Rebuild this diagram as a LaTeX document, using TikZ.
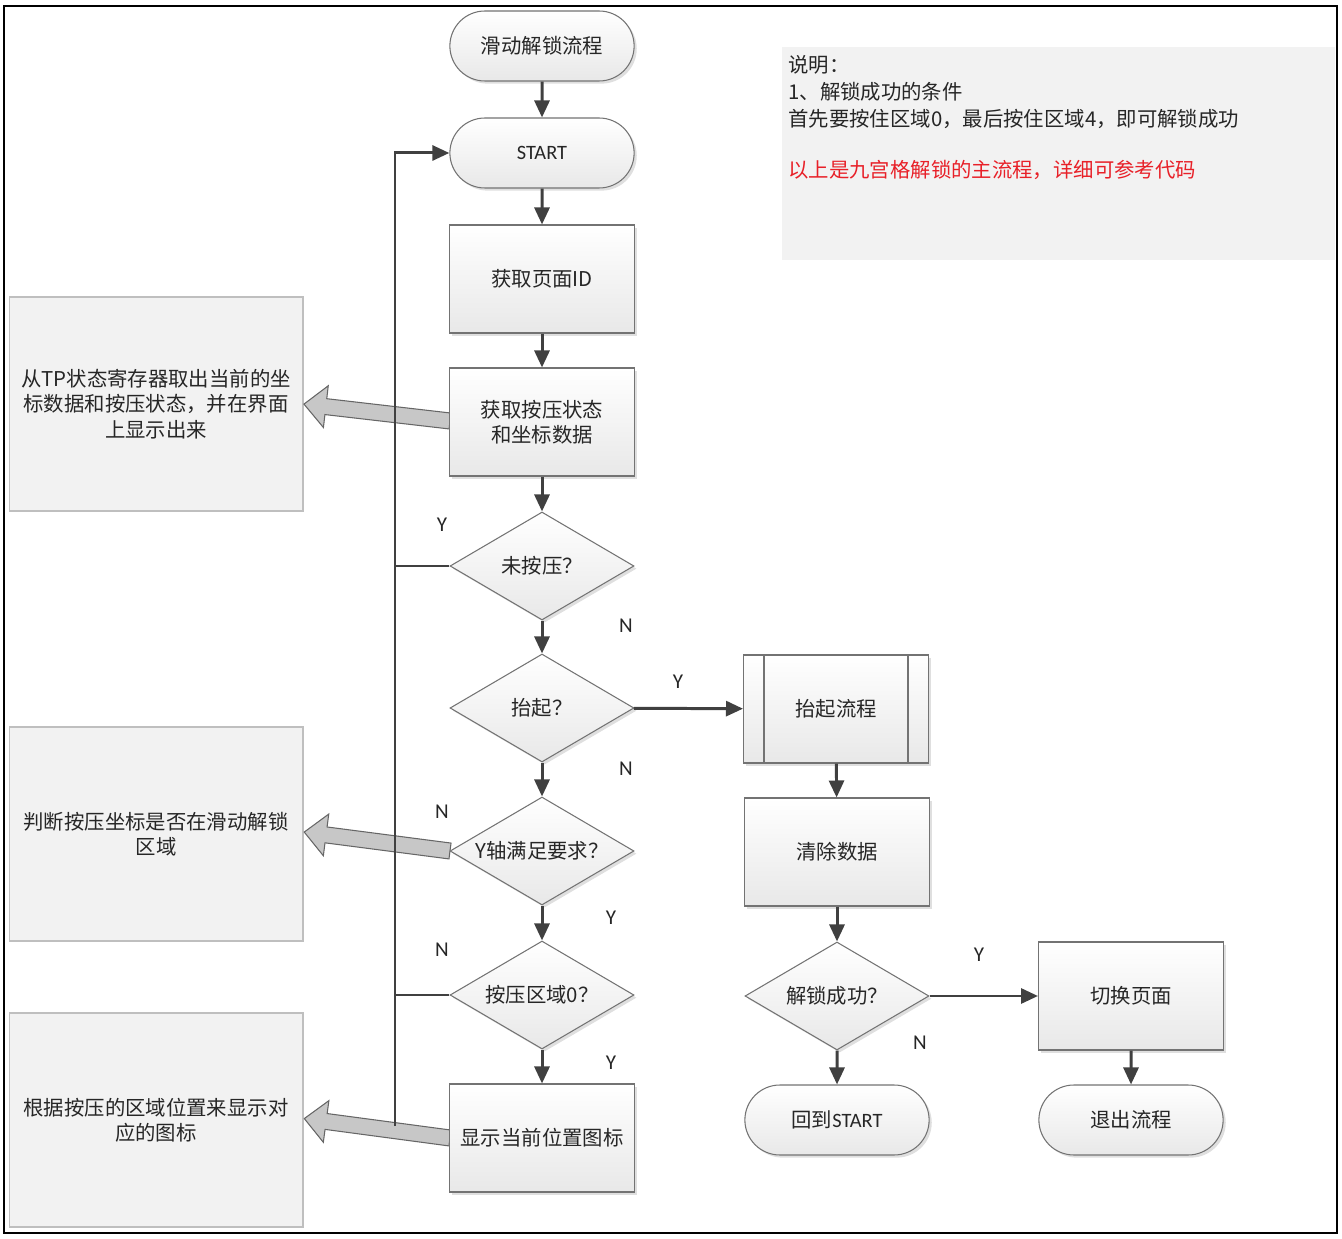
\documentclass[tikz,border=0pt]{standalone}
\usepackage{fontspec}
\setmainfont{Noto Sans CJK SC}
\newfontfamily\latinfont{Carlito}
\usetikzlibrary{shapes.geometric,shapes.misc,arrows.meta,shadows,calc}
\definecolor{linegray}{RGB}{64,64,64}
\definecolor{notered}{RGB}{232,32,40}
\newcommand{\hintarrow}[2]{\draw[hint, shift={(#1)}, rotate=#2] (0,-8) -- (-125,-8) -- (-125,-21) -- (-147,0) -- (-125,21) -- (-125,8) -- (0,8) -- cycle;}

\begin{document}
\begin{tikzpicture}[x=0.02cm,y=-0.02cm,
  every node/.style={font=\fontsize{11.6}{14.5}\selectfont, text=black!85},
  base/.style={draw=black!55, line width=0.6pt, top color=white, bottom color=black!9,
    drop shadow={shadow xshift=1.5pt,shadow yshift=-1.5pt,opacity=.25}},
  term/.style={base, rounded rectangle, minimum width=3.92cm, minimum height=1.4cm},
  proc/.style={base, rectangle, minimum width=3.7cm, minimum height=2.16cm, align=center},
  decide/.style={base, diamond, minimum width=3.68cm, minimum height=2.16cm, inner sep=0pt, aspect=1.7},
  memo/.style={rectangle, fill=black!5, draw=black!25, line width=0.6pt, minimum width=5.88cm, minimum height=4.28cm, align=center},
  flow/.style={linegray, line width=1.7pt, -{Triangle[length=3.4mm,width=3mm]}},
  loopline/.style={linegray, line width=1.7pt},
  hint/.style={draw=black!60, fill=black!22, line width=0.6pt},
  yn/.style={font=\latinfont\fontsize{12}{14}\selectfont}]
\useasboundingbox (0,0) rectangle (1342,1239);
\draw[line width=1.4pt] (4,6) rectangle (1337,1233);

% note
\fill[black!5] (782,47) rectangle (1335,260);
\node[anchor=north west, align=left, inner sep=0pt, font=\fontsize{11.6}{15.4}\selectfont] (note) at (788,55)
  {说明：\\1、解锁成功的条件\\首先要按住区域0，最后按住区域4，即可解锁成功\\[13.5pt]\textcolor{notered}{以上是九宫格解锁的主流程，详细可参考代码}};

% side notes
\node[memo] (memo1) at (156,404) {从TP状态寄存器取出当前的坐\\标数据和按压状态，并在界面\\上显示出来};
\node[memo] (memo2) at (156,834) {判断按压坐标是否在滑动解锁\\区域};
\node[memo] (memo3) at (156,1120) {根据按压的区域位置来显示对\\应的图标};
\hintarrow{450,421}{-6.6}
\hintarrow{450,851}{-7.4}
\hintarrow{450,1138}{-7.6}

% main column
\node[term] (title) at (542,46) {滑动解锁流程};
\node[term] (start) at (542,153) {\latinfont START};
\node[proc] (pageid) at (542,279) {获取页面ID};
\node[proc] (getxy) at (542,422) {获取按压状态\\和坐标数据};
\node[decide] (nopress) at (542,566) {未按压？};
\node[decide] (liftq) at (542,708) {抬起？};
\node[decide] (yaxis) at (542,851) {Y轴满足要求？};
\node[decide] (zone0) at (542,995) {按压区域0？};
\node[proc] (showicon) at (542,1138) {显示当前位置图标};

% right part
\node[proc] (liftproc) at (836,709) {抬起流程};
\draw[draw=black!55, line width=0.6pt] ($(liftproc.north west)+(21,0)$) -- ($(liftproc.south west)+(21,0)$)
  ($(liftproc.north east)+(-21,0)$) -- ($(liftproc.south east)+(-21,0)$);
\node[proc] (clear) at (837,852) {清除数据};
\node[decide] (unlockq) at (837,996) {解锁成功？};
\node[term] (backstart) at (837,1120) {回到{\latinfont START}};
\node[proc] (switch) at (1131,996) {切换页面};
\node[term] (quit) at (1131,1120) {退出流程};

\draw[flow] (title) -- (start);
\draw[flow] (start) -- (pageid);
\draw[flow] (pageid) -- (getxy);
\draw[flow] (getxy) -- (nopress);
\draw[flow] (nopress) -- (liftq);
\draw[flow] (liftq) -- (yaxis);
\draw[flow] (yaxis) -- (zone0);
\draw[flow] (zone0) -- (showicon);
\draw[flow] (liftq) -- (liftproc);
\draw[flow] (liftproc) -- (clear);
\draw[flow] (clear) -- (unlockq);
\draw[flow] (unlockq) -- (switch);
\draw[flow] (unlockq) -- (backstart);
\draw[flow] (switch) -- (quit);

% back to START
\coordinate (loopend) at (395,1126);
\draw[flow] (loopend) |- (start.west);
\draw[loopline] (nopress.west) -- (nopress.west -| loopend);
\draw[loopline] (zone0.west) -- (zone0.west -| loopend);

\node[yn] (y1) at (442,525) {Y};
\node[yn] (n1) at (626,626) {N};
\node[yn] (y2) at (678,682) {Y};
\node[yn] (n2) at (626,769) {N};
\node[yn] (n3) at (442,812) {N};
\node[yn] (y3) at (611,918) {Y};
\node[yn] (n4) at (442,950) {N};
\node[yn] (y4) at (611,1063) {Y};
\node[yn] (y5) at (979,955) {Y};
\node[yn] (n5) at (920,1043) {N};
\end{tikzpicture}
\end{document}
